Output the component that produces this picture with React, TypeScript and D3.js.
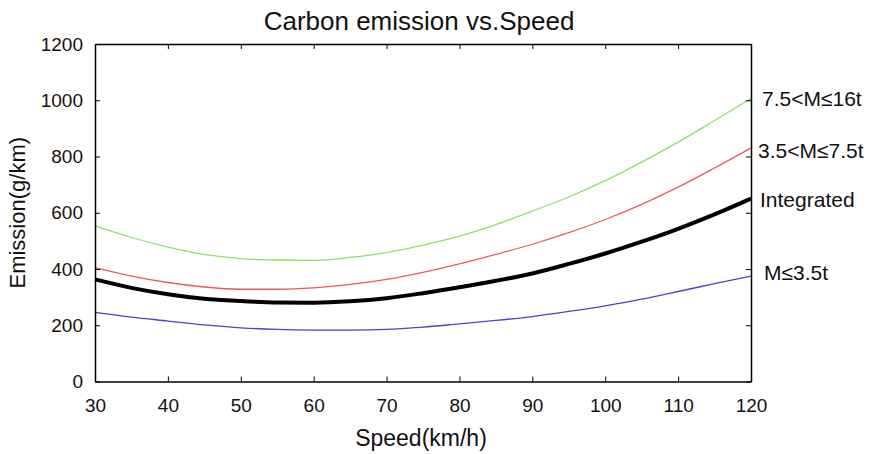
import * as d3 from 'd3';
import { useEffect, useRef } from 'react';

const speeds = [30, 35, 40, 45, 50, 55, 60, 65, 70, 75, 80, 85, 90, 95, 100, 105, 110, 115, 120];

const heavyValues = [553, 512, 478, 452, 437, 432, 431, 441, 458, 485, 517, 558, 606, 656, 714, 780, 851, 928, 1006];
const mediumValues = [405, 375, 352, 336, 328, 328, 333, 345, 363, 388, 418, 452, 488, 529, 576, 630, 691, 759, 830];
const integratedValues = [363, 333, 310, 294, 286, 281, 280, 285, 296, 314, 335, 358, 384, 418, 455, 497, 543, 594, 650];
const lightValues = [246, 229, 215, 201, 191, 185, 183, 183, 185, 193, 205, 217, 231, 249, 269, 293, 320, 348, 375];

const seriesLabels = ['7.5<M≤16t', '3.5<M≤7.5t', 'Integrated', 'M≤3.5t'];

const xTicks = [30, 40, 50, 60, 70, 80, 90, 100, 110, 120];
const yTicks = [0, 200, 400, 600, 800, 1000, 1200];

const W = 880;
const H = 454;
const left = 95;
const right = 751;
const top = 44;
const bottom = 381.5;
const font = "'Liberation Sans', Arial, Helvetica, sans-serif";

function App() {
  const svgElement = useRef<SVGSVGElement | null>(null);

  useEffect(() => {
    const svg = d3.select(svgElement.current);
    svg.selectAll('*').remove();

    const x = d3.scaleLinear().domain([30, 120]).range([left, right]);
    const y = d3.scaleLinear().domain([0, 1200]).range([bottom, top]);

    const series = [
      { name: seriesLabels[0], values: heavyValues, color: '#8ee064', width: 1.3, lx: 762, dy: 0 },
      { name: seriesLabels[1], values: mediumValues, color: '#e85a5c', width: 1.3, lx: 758, dy: 2 },
      { name: seriesLabels[2], values: integratedValues, color: '#000000', width: 4, lx: 760, dy: 1 },
      { name: seriesLabels[3], values: lightValues, color: '#4646c8', width: 1.3, lx: 764, dy: -4 },
    ];

    const line = d3
      .line<number>()
      .x((_, i) => x(speeds[i]))
      .y((d) => y(d))
      .curve(d3.curveMonotoneX);

    // lines
    svg
      .selectAll('.series')
      .data(series)
      .join('path')
      .attr('class', 'series')
      .attr('fill', 'none')
      .attr('stroke', (d) => d.color)
      .attr('stroke-width', (d) => d.width)
      .attr('stroke-linejoin', 'round')
      .attr('d', (d) => line(d.values));

    // axes (box with inward ticks)
    const axisStyle = (g: d3.Selection<SVGGElement, unknown, null, undefined>) => {
      g.select('.domain').attr('stroke', '#000').attr('stroke-width', 1.5);
      g.selectAll('.tick line').attr('stroke', '#000').attr('stroke-width', 1);
      g.selectAll('.tick text')
        .attr('fill', '#111')
        .style('font-family', font)
        .style('font-size', '19px');
    };

    svg
      .append('g')
      .attr('transform', `translate(0, ${bottom})`)
      .call(d3.axisBottom(x).tickValues(xTicks).tickSize(-5).tickSizeOuter(0).tickPadding(12).tickFormat(d3.format('d')))
      .call(axisStyle)
      .call((g) => g.selectAll('.tick text').attr('dy', '0.95em'));

    svg
      .append('g')
      .attr('transform', `translate(0, ${top})`)
      .call(d3.axisTop(x).tickValues(xTicks).tickSize(-5).tickSizeOuter(0).tickFormat(() => ''))
      .call(axisStyle);

    svg
      .append('g')
      .attr('transform', `translate(${left}, 0)`)
      .call(d3.axisLeft(y).tickValues(yTicks).tickSize(-5).tickSizeOuter(0).tickPadding(12).tickFormat(d3.format('d')))
      .call(axisStyle);

    svg
      .append('g')
      .attr('transform', `translate(${right}, 0)`)
      .call(d3.axisRight(y).tickValues(yTicks).tickSize(-5).tickSizeOuter(0).tickFormat(() => ''))
      .call(axisStyle);

    // series labels
    svg
      .selectAll('.label')
      .data(series)
      .join('text')
      .attr('class', 'label')
      .attr('x', (d) => d.lx)
      .attr('y', (d) => y(d.values[d.values.length - 1]) + d.dy)
      .attr('dominant-baseline', 'central')
      .style('font-family', font)
      .style('font-size', '21px')
      .attr('fill', '#111')
      .text((d) => d.name);

    // title
    svg
      .append('text')
      .attr('x', 419)
      .attr('y', 30)
      .attr('text-anchor', 'middle')
      .style('font-family', font)
      .style('font-size', '26px')
      .attr('fill', '#111')
      .text('Carbon emission vs.Speed');

    // x label
    svg
      .append('text')
      .attr('x', 421)
      .attr('y', 446)
      .attr('text-anchor', 'middle')
      .style('font-family', font)
      .style('font-size', '23px')
      .attr('fill', '#111')
      .text('Speed(km/h)');

    // y label
    svg
      .append('text')
      .attr('transform', `translate(25, ${(top + bottom) / 2}) rotate(-90)`)
      .attr('text-anchor', 'middle')
      .style('font-family', font)
      .style('font-size', '22px')
      .attr('fill', '#111')
      .text('Emission(g/km)');
  }, []);

  return (
    <svg
      ref={svgElement}
      width={W}
      height={H}
      style={{ position: 'absolute', left: 0, top: 0, background: '#fff' }}
    />
  );
}

export default App;
